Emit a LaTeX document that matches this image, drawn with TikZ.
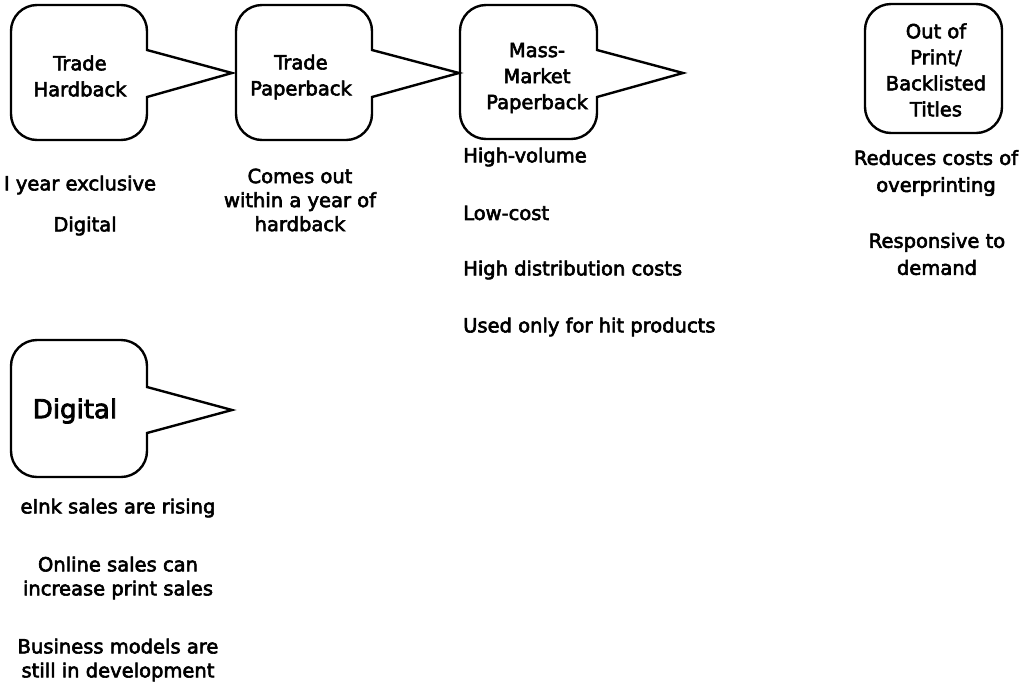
\documentclass[tikz,border=0pt]{standalone}
\usepackage{fontspec}
\setmainfont{DejaVu Sans}[FakeBold=3]
\begin{document}
\begin{tikzpicture}[x=1pt,y=1pt,
  outline/.style={line width=2.4pt, line join=miter},
  boxtext/.style={font=\fontsize{19.5}{26}\selectfont, align=center, inner sep=0pt},
  desc/.style={font=\fontsize{19.5}{24}\selectfont, align=center, inner sep=0pt},
  item/.style={font=\fontsize{19.5}{24}\selectfont, anchor=west, inner sep=0pt}]
\useasboundingbox (0,0) rectangle (1019,-689);
% rounded box with a speech pointer on its right side
% #1 left, #2 top, #3 right, #4 bottom, #5 pointer top, #6 pointer bottom, #7 tip name
\newcommand\bubble[7]{%
  \draw[outline] (#1,-#2-26) arc[start angle=180,end angle=90,radius=26pt]
    -- (#3-26,-#2) arc[start angle=90,end angle=0,radius=26pt]
    -- (#3,-#5) -- (#7) -- (#3,-#6)
    -- (#3,-#4+26) arc[start angle=0,end angle=-90,radius=26pt]
    -- (#1+26,-#4) arc[start angle=-90,end angle=-180,radius=26pt] -- cycle;}
\coordinate (tipA) at (232,-73);
\coordinate (tipB) at (459,-73);
\coordinate (tipC) at (683,-73);
\coordinate (tipD) at (232,-410);
\bubble{11}{5}{147}{140}{50}{97}{tipA}
\bubble{236}{5}{372}{140}{50}{97}{tipB}
\bubble{460}{5}{597}{139}{50}{97}{tipC}
\bubble{11}{340}{147}{477}{387}{433}{tipD}
\draw[outline, rounded corners=26pt] (865,-4) rectangle (1002,-133);

% box labels
\node[boxtext] (hard) at (80,-76) {Trade\\Hardback};
\node[boxtext] (paper) at (301,-77) {Trade\\Paperback};
\node[boxtext] (mass) at (537,-78) {Mass-\\Market\\Paperback};
\node[boxtext] (oop) at (936,-70) {Out of\\Print/\\Backlisted\\Titles};
\node[boxtext, font=\fontsize{26}{30}\selectfont] (digital) at (75,-411) {Digital};

% notes under each box
\node[desc] (excl) at (80,-185) {I year exclusive};
\node[desc] (dig) at (85,-226) {Digital};
\node[desc] (comes) at (300,-200) {Comes out\\within a year of\\hardback};
\node[item] (hv) at (463,-157) {High-volume};
\node[item] (lc) at (463,-213) {Low-cost};
\node[item] (hd) at (463,-270) {High distribution costs};
\node[item] (hit) at (463,-327) {Used only for hit products};
\node[desc, font=\fontsize{19.5}{27}\selectfont] (over) at (936,-173) {Reduces costs of\\overprinting};
\node[desc, font=\fontsize{19.5}{27}\selectfont] (resp) at (937,-254) {Responsive to\\demand};
\node[desc] (eink) at (118,-508) {eInk sales are rising};
\node[desc] (online) at (118,-578) {Online sales can\\increase print sales};
\node[desc] (biz) at (118,-660) {Business models are\\still in development};
\end{tikzpicture}
\end{document}
